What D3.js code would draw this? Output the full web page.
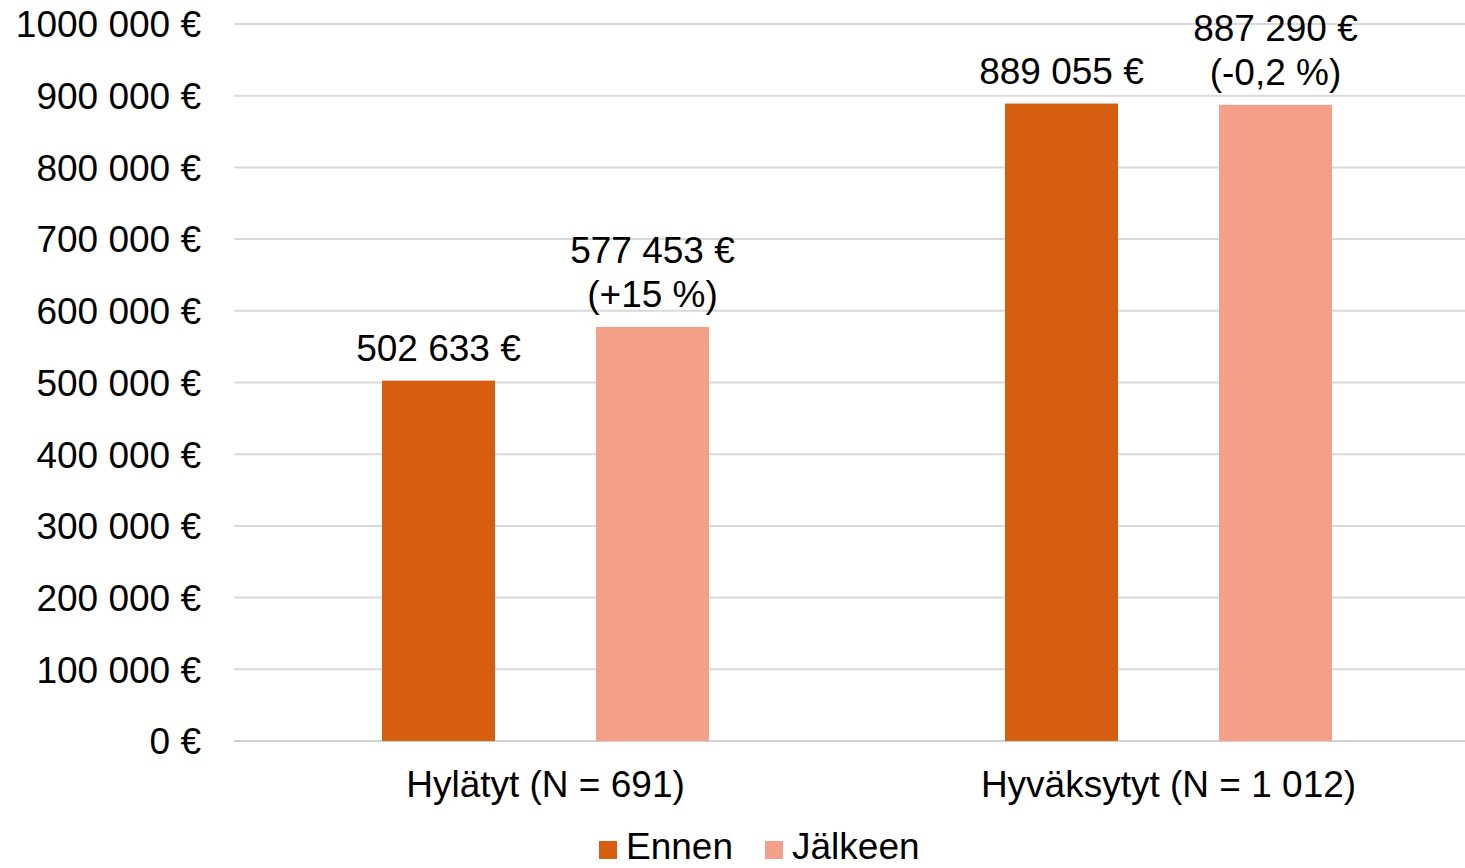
<!DOCTYPE html>
<html lang="fi">
<head>
<meta charset="UTF-8">
<title>Ennen ja jälkeen</title>
<style>
  body { margin: 0; background: #fff; }
  text { font-family: "Liberation Sans", Arial, sans-serif; fill: #000; }
</style>
</head>
<body>
<svg width="1465" height="868" id="svg"></svg>
<script src="https://d3js.org/d3.v7.min.js"></script>
<script>
const categories = ["Hylätyt (N = 691)", "Hyväksytyt (N = 1 012)"]
const series = ["Ennen", "Jälkeen"]
const ennen = [502633, 889055]
const jalkeen = [577453, 887290]
const changes = ["+15 %", "-0,2 %"]
const yTicks = [0, 100000, 200000, 300000, 400000, 500000, 600000, 700000, 800000, 900000, 1000000]
const colors = ["#D55E11", "#F4A088"]
const fs = 37

const svg = d3.select("svg#svg")
const fmt = v => {
  // 1000000 is written without the first space in the original
  if (v >= 1000000) return "1000 000 €"
  return d3.format(",")(v).replace(/,/g, " ") + " €"
}

const x0 = d3.scaleBand().domain(categories).range([234, 1480])
const x1 = d3.scaleBand().domain(series).range([148, 475]).paddingInner(0.472)
const y = d3.scaleLinear().domain([0, 1000000]).range([741, 24])

// gridlines
svg.append("g").selectAll("line").data(yTicks).join("line")
  .attr("x1", 234).attr("x2", 1465)
  .attr("y1", d => y(d)).attr("y2", d => y(d))
  .attr("stroke", d => d === 0 ? "#d0d0d0" : "#d9d9d9")
  .attr("stroke-width", 2)

// y axis labels
const yAxis = d3.axisLeft(y).tickValues(yTicks).tickFormat(fmt).tickSize(0).tickPadding(0)
svg.append("g").attr("transform", "translate(201,1)").call(yAxis)
  .call(g => g.select(".domain").remove())
  .call(g => g.selectAll("text").attr("font-size", fs).attr("font-family", "Liberation Sans, Arial, sans-serif").attr("fill", "#000"))

// x axis labels
const xAxis = d3.axisBottom(x0).tickSize(0).tickPadding(0)
svg.append("g").attr("transform", "translate(0,771)").call(xAxis)
  .call(g => g.select(".domain").remove())
  .call(g => g.selectAll("text").attr("font-size", fs).attr("font-family", "Liberation Sans, Arial, sans-serif").attr("fill", "#000"))

const rows = categories.map((c, i) => ({ cat: c, vals: [ennen[i], jalkeen[i]], change: changes[i] }))

const groups = svg.append("g").selectAll("g").data(rows).join("g")
  .attr("transform", d => `translate(${x0(d.cat)},0)`)

groups.selectAll("rect").data(d => d.vals.map((v, j) => ({ key: series[j], v, j }))).join("rect")
  .attr("x", d => x1(d.key))
  .attr("width", x1.bandwidth())
  .attr("y", d => y(d.v))
  .attr("height", d => y(0) - y(d.v))
  .attr("fill", d => colors[d.j])

// value labels
groups.each(function (d) {
  const g = d3.select(this)
  g.append("text")
    .attr("x", x1("Ennen") + x1.bandwidth() / 2)
    .attr("y", y(d.vals[0]) - 20)
    .attr("text-anchor", "middle")
    .attr("font-size", fs)
    .text(fmt(d.vals[0]))
  const cx = x1("Jälkeen") + x1.bandwidth() / 2
  const t = g.append("text")
    .attr("x", cx)
    .attr("y", y(d.vals[1]) - 20)
    .attr("text-anchor", "middle")
    .attr("font-size", fs)
  t.append("tspan").attr("x", cx).attr("dy", -44).text(fmt(d.vals[1]))
  t.append("tspan").attr("x", cx).attr("dy", 44).text(`(${d.change})`)
})

// legend (kept just inside the bottom edge)
const legendX = [599, 765]
const legend = svg.append("g").selectAll("g").data(series).join("g")
  .attr("transform", (d, i) => `translate(${legendX[i]},841)`)
legend.append("rect").attr("width", 18).attr("height", 18).attr("fill", (d, i) => colors[i])
legend.append("text").attr("x", 27).attr("y", 18).attr("font-size", fs).text(d => d)
</script>
</body>
</html>
